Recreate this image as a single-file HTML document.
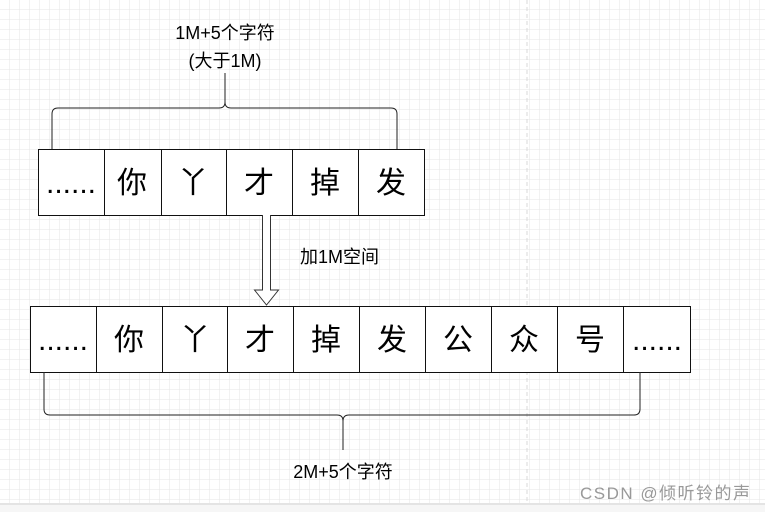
<!DOCTYPE html>
<html><head><meta charset="utf-8"><style>
body{margin:0;width:765px;height:512px;overflow:hidden;background:#fff;}
svg{display:block}
text{font-family:"Liberation Sans","Noto Sans CJK SC",sans-serif;fill:#000}
</style></head><body>
<svg width="765" height="512" viewBox="0 0 765 512">
<defs>
<pattern id="g" width="10" height="10" patternUnits="userSpaceOnUse">
<path d="M10 0V10H0" fill="none" stroke="#e6e6e6" stroke-width="1"/>
</pattern>
</defs>
<rect x="0" y="0" width="765" height="505" fill="url(#g)"/>
<line x1="527" y1="0" x2="527" y2="505" stroke="#d8d8d8" stroke-dasharray="4 3"/>
<rect x="0" y="503" width="765" height="9" fill="#e4e4e4"/>
<rect x="0" y="505" width="765" height="7" fill="#f6f6f6"/>

<text x="225" y="39" font-size="18" text-anchor="middle">1M+5个字符</text>
<text x="225" y="67" font-size="18" text-anchor="middle">(大于1M)</text>
<path d="M225 73V102Q225 108 219 108H58Q52 108 52 114V149M225 102Q225 108 231 108H391Q397 108 397 114V149" fill="none" stroke="#222" stroke-width="1"/>

<g stroke="#111" stroke-width="1" fill="#fff">
<rect x="38.5" y="149.5" width="386" height="66"/>
<path d="M104.5 149.5V215.5M161.5 149.5V215.5M226.5 149.5V215.5M292.5 149.5V215.5M358.5 149.5V215.5"/>
</g>
<g font-size="30" text-anchor="middle">
<text x="71" y="193">......</text><text x="132" y="193">你</text><text x="193" y="193">丫</text><text x="259" y="193">才</text><text x="325" y="193">掉</text><text x="391" y="193">发</text>
</g>

<path d="M262.5 215V290H254.5L266.5 305L278.5 290H270.5V215" fill="#fff" stroke="#333" stroke-width="1"/>
<text x="300" y="263" font-size="18">加1M空间</text>

<g stroke="#111" stroke-width="1" fill="#fff">
<rect x="30.5" y="306.5" width="660" height="66"/>
<path d="M96.5 306.5V372.5M162.5 306.5V372.5M227.5 306.5V372.5M293.5 306.5V372.5M359.5 306.5V372.5M425.5 306.5V372.5M491.5 306.5V372.5M557.5 306.5V372.5M623.5 306.5V372.5"/>
</g>
<g font-size="30" text-anchor="middle">
<text x="63" y="350">......</text><text x="129" y="350">你</text><text x="195" y="350">丫</text><text x="260" y="350">才</text><text x="326" y="350">掉</text><text x="392" y="350">发</text><text x="458" y="350">公</text><text x="524" y="350">众</text><text x="590" y="350">号</text><text x="657" y="350">......</text>
</g>

<path d="M44 372V409Q44 415 50 415H337Q343 415 343 421V450M343 421Q343 415 349 415H634Q640 415 640 409V372" fill="none" stroke="#222" stroke-width="1"/>
<text x="343" y="478" font-size="18" text-anchor="middle">2M+5个字符</text>

<text x="580" y="499" font-size="17" textLength="170" style="fill:#999">CSDN @倾听铃的声</text>
</svg>
</body></html>
